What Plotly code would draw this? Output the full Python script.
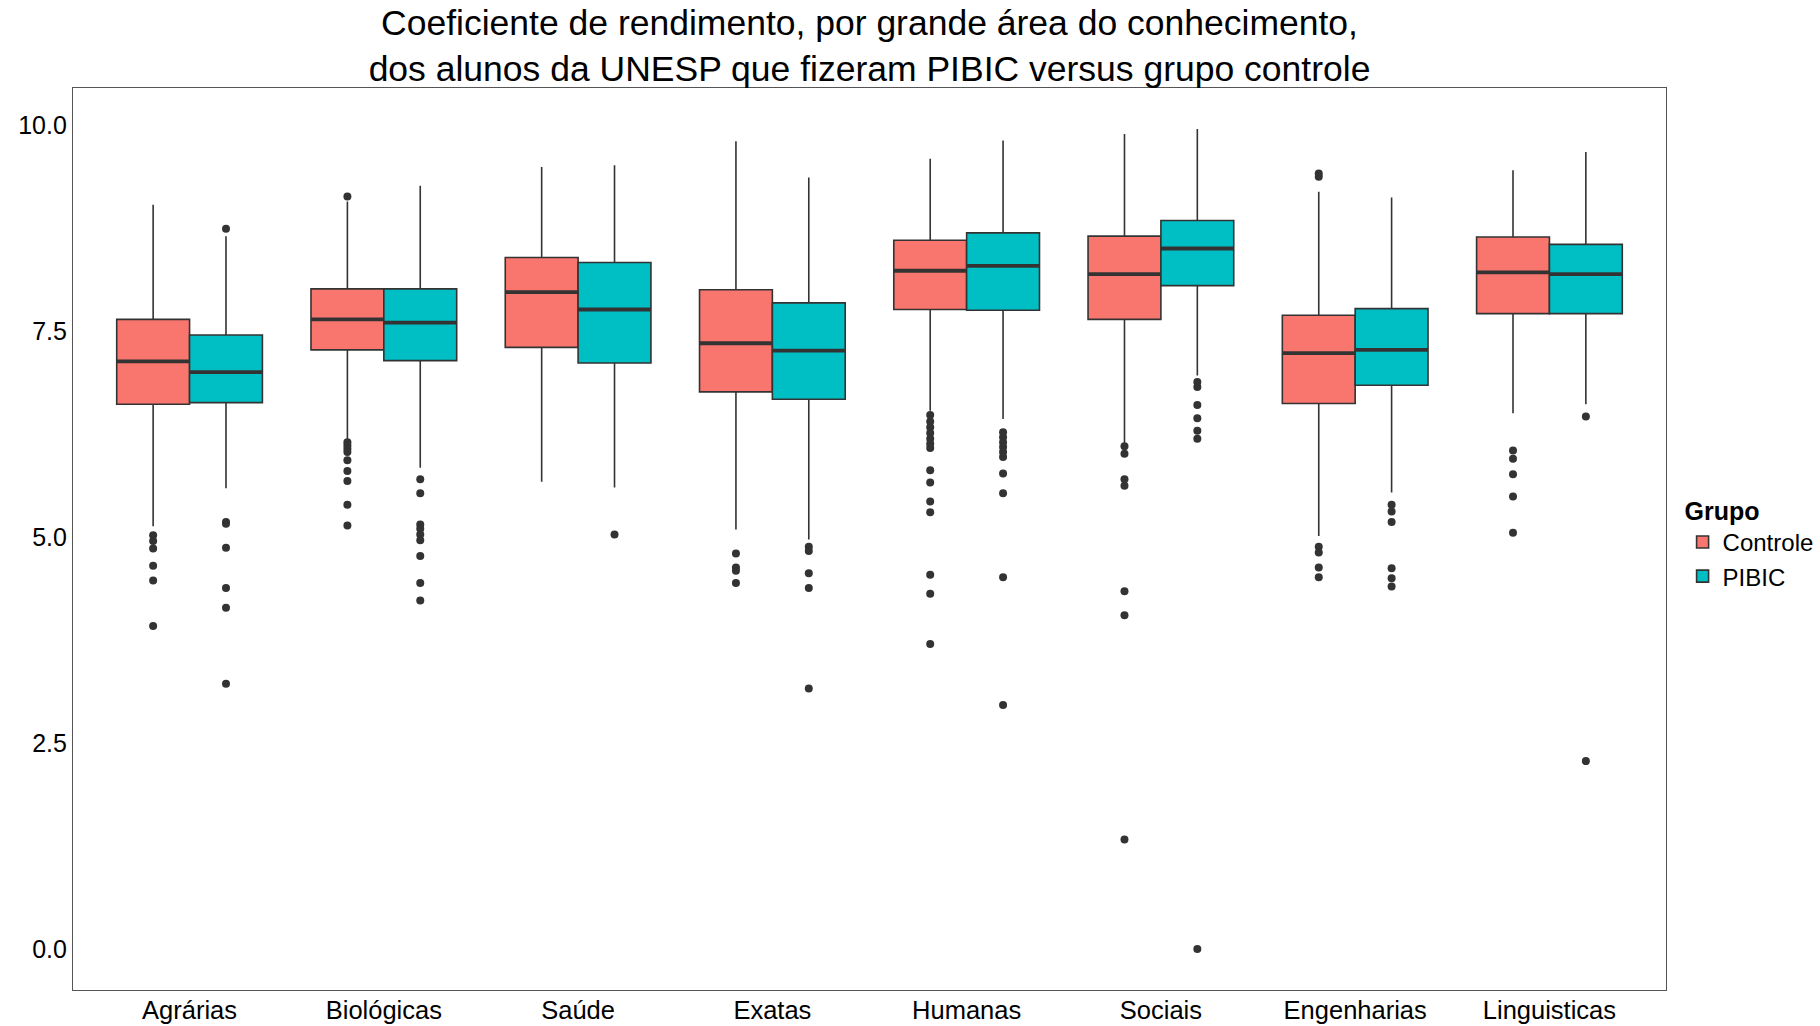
"""boxplot do coeficiente de rendimento por grande area, PIBIC versus controle"""

#%%
import numpy as np
import plotly.graph_objects as go

# %% dados (quartis, bigodes e outliers)
categorias = ['Agrárias', 'Biológicas', 'Saúde', 'Exatas',
              'Humanas', 'Sociais', 'Engenharias', 'Linguisticas']

controle_q1 = [6.61, 7.27, 7.30, 6.76, 7.76, 7.64, 6.62, 7.71]
controle_med = [7.13, 7.64, 7.97, 7.35, 8.23, 8.19, 7.23, 8.21]
controle_q3 = [7.64, 8.01, 8.39, 8.00, 8.60, 8.65, 7.69, 8.64]
controle_lo = [5.13, 6.19, 5.67, 5.09, 6.53, 6.13, 5.01, 6.50]
controle_hi = [9.03, 9.07, 9.49, 9.80, 9.59, 9.89, 9.19, 9.45]
controle_out = [
    [5.02, 4.95, 4.86, 4.65, 4.47, 3.92],
    [9.13, 6.15, 6.11, 6.07, 6.03, 5.93, 5.80, 5.68, 5.39, 5.14],
    [],
    [4.80, 4.63, 4.59, 4.44],
    [6.48, 6.40, 6.33, 6.26, 6.19, 6.13, 6.08, 5.81, 5.66, 5.43, 5.30, 4.54, 4.31, 3.70],
    [6.10, 6.01, 5.70, 5.62, 4.34, 4.05, 1.33],
    [9.41, 9.37, 4.88, 4.81, 4.63, 4.51],
    [6.05, 5.95, 5.76, 5.49, 5.05],
]

pibic_q1 = [6.63, 7.14, 7.11, 6.67, 7.75, 8.05, 6.84, 7.71]
pibic_med = [7.00, 7.60, 7.76, 7.26, 8.29, 8.50, 7.27, 8.19]
pibic_q3 = [7.45, 8.01, 8.33, 7.84, 8.69, 8.84, 7.77, 8.55]
pibic_lo = [5.59, 5.84, 5.60, 4.97, 6.43, 6.96, 5.54, 6.61]
pibic_hi = [8.65, 9.26, 9.51, 9.36, 9.81, 9.95, 9.12, 9.67]
pibic_out = [
    [8.74, 5.18, 5.16, 4.87, 4.38, 4.14, 3.22],
    [5.70, 5.53, 5.15, 5.10, 5.03, 4.96, 4.77, 4.44, 4.23],
    [5.03],
    [4.88, 4.83, 4.56, 4.38, 3.16],
    [6.27, 6.21, 6.15, 6.09, 6.03, 5.97, 5.77, 5.53, 4.51, 2.96],
    [6.88, 6.82, 6.60, 6.44, 6.29, 6.19, 0.0],
    [5.39, 5.31, 5.18, 4.62, 4.50, 4.40],
    [6.46, 2.28],
]

grupos = ['Controle', 'PIBIC']
cores = ['#F8766D', '#00BFC4']

# %% figura
def add_grupo(fig, nome, cor, dx, q1, med, q3, lo, hi, outs, largura=0.375):
    '''adiciona as caixas de um grupo deslocadas de dx em relacao a categoria'''
    pos = np.arange(1, len(categorias) + 1) + dx
    fig.add_trace(go.Box(x=pos, q1=q1, median=med, q3=q3,
                         lowerfence=lo, upperfence=hi,
                         width=largura, whiskerwidth=0, boxpoints=False,
                         fillcolor=cor, line=dict(color='#333333', width=1.6),
                         name=nome, hoverinfo='skip'))
    # linha da mediana mais grossa, como no ggplot
    mx, my = [], []
    for p, m in zip(pos, med):
        mx += [p - largura / 2, p + largura / 2, None]
        my += [m, m, None]
    fig.add_trace(go.Scatter(x=mx, y=my, mode='lines', showlegend=False,
                             line=dict(color='#333333', width=3.8), hoverinfo='skip'))
    # outliers
    ox, oy = [], []
    for p, vals in zip(pos, outs):
        ox += [p] * len(vals)
        oy += vals
    fig.add_trace(go.Scatter(x=ox, y=oy, mode='markers', showlegend=False,
                             marker=dict(color='#333333', size=8), hoverinfo='skip'))


fig = go.Figure()
add_grupo(fig, grupos[0], cores[0], -0.1875, controle_q1, controle_med, controle_q3,
          controle_lo, controle_hi, controle_out)
add_grupo(fig, grupos[1], cores[1], 0.1875, pibic_q1, pibic_med, pibic_q3,
          pibic_lo, pibic_hi, pibic_out)

fonte = 'Liberation Sans, Arial, Helvetica, sans-serif'
fig.update_layout(
    width=1820, height=1026,
    autosize=False,
    template='none',
    font=dict(family=fonte, size=25, color='#000000'),
    paper_bgcolor='white', plot_bgcolor='white',
    margin=dict(l=73, r=154, t=88, b=36),
    title=dict(text='Coeficiente de rendimento, por grande área do conhecimento,<br>'
                    'dos alunos da UNESP que fizeram PIBIC versus grupo controle',
               x=0.5, xref='paper', xanchor='center',
               y=0.966, yref='container', yanchor='middle',
               font=dict(size=35.5, color='#000000')),
    # legenda presa ao container para nao empurrar a margem direita
    legend=dict(title=dict(text='<b>Grupo</b>', font=dict(size=25)),
                xref='container', yref='container',
                x=0.9245, xanchor='left', y=0.525, yanchor='top',
                font=dict(size=24), tracegroupgap=0, bgcolor='rgba(0,0,0,0)'),
    showlegend=True,
)
fig.update_xaxes(range=[0.4, 8.6], tickvals=list(range(1, len(categorias) + 1)),
                 ticktext=categorias, tickfont=dict(size=25.5), ticklabelstandoff=-3,
                 showgrid=False, zeroline=False,
                 showline=True, mirror=True, linecolor='#555555', linewidth=1.2,
                 ticks='', automargin=False)
fig.update_yaxes(range=[-0.4975, 10.4475], tickvals=[0, 2.5, 5, 7.5, 10],
                 ticktext=['0.0', '2.5', '5.0', '7.5', '10.0'],
                 showgrid=False, zeroline=False,
                 showline=True, mirror=True, linecolor='#555555', linewidth=1.2,
                 ticks='', automargin=False)

# sem margem no body para a figura caber exatamente na janela
fig.write_html('out.html',
               config={'responsive': False, 'displayModeBar': False},
               post_script="document.body.style.margin='0';"
                           "document.body.style.overflow='hidden';")
